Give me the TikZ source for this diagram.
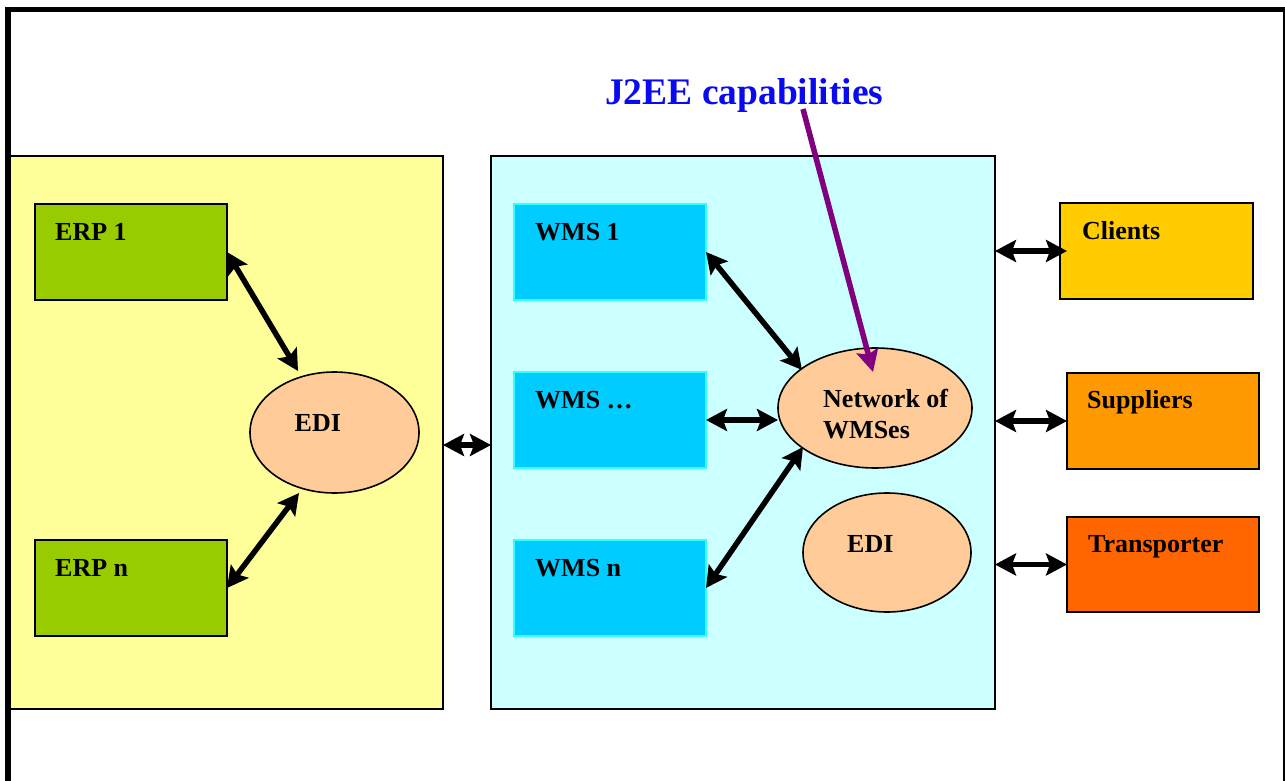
\documentclass[tikz,border=0pt]{standalone}
\usepackage{fontspec}
\setmainfont{Liberation Serif}
\usetikzlibrary{arrows.meta,calc,shapes.geometric}

\definecolor{zoneyellow}{RGB}{255,255,153}
\definecolor{zonecyan}{RGB}{204,255,255}
\definecolor{erpgreen}{RGB}{153,204,0}
\definecolor{wmsblue}{RGB}{0,204,255}
\definecolor{wmsedge}{RGB}{51,255,255}
\definecolor{edipeach}{RGB}{255,204,153}
\definecolor{clientgold}{RGB}{255,204,0}
\definecolor{supplierorange}{RGB}{255,153,0}
\definecolor{transporterorange}{RGB}{255,102,0}
\definecolor{titleblue}{RGB}{10,10,240}
\definecolor{pointerpurple}{RGB}{128,0,128}

\begin{document}
\begin{tikzpicture}[x=1pt,y=-1pt,
  zone/.style={draw=black,line width=1.8pt,inner sep=0pt,outer sep=0pt,anchor=north west},
  box/.style={draw=black,line width=2pt,inner sep=0pt,outer sep=0pt,anchor=north west,
              minimum width=192pt,minimum height=96pt},
  wmsbox/.style={box,draw=wmsedge,fill=wmsblue},
  oval/.style={ellipse,draw=black,line width=1.6pt,fill=edipeach,inner sep=0pt,outer sep=0pt},
  lbl/.style={font=\fontsize{26}{31}\selectfont\bfseries,inner sep=0pt,anchor=base west},
  dbl/.style={line width=5.5pt,
    {Stealth[length=21pt,width=22pt,inset=4pt]}-{Stealth[length=21pt,width=22pt,inset=4pt]}},
  pointer/.style={line width=5.5pt,draw=pointerpurple,
    -{Stealth[length=22pt,width=22pt,inset=4pt]}}]
\useasboundingbox (0,0) rectangle (1285,781);
\fill[white] (0,0) rectangle (1285,781);

% the two zones
\node[zone,fill=zoneyellow,minimum width=433pt,minimum height=553pt] (erpzone) at (10,156) {};
\node[zone,fill=zonecyan,minimum width=504pt,minimum height=553pt] (wmszone) at (491,156) {};

% ERP side
\node[box,fill=erpgreen] (erp1) at (35,204) {};
\node[box,fill=erpgreen] (erpn) at (35,540) {};
\node[lbl] (erp1-t) at ($(erp1.north west)+(20,36)$) {ERP 1};
\node[lbl] (erpn-t) at ($(erpn.north west)+(20,36)$) {ERP n};
\node[oval,minimum width=169pt,minimum height=121pt] (edi1) at (334.5,432.5) {};
\node[lbl] (edi1-t) at ($(edi1.center)+(-40,-1)$) {EDI};

% WMS side
\node[wmsbox] (wms1) at (514,204) {};
\node[wmsbox] (wms2) at (514,372) {};
\node[wmsbox] (wmsn) at (514,540) {};
\node[lbl] (wms1-t) at ($(wms1.north west)+(21,36)$) {WMS 1};
\node[lbl] (wms2-t) at ($(wms2.north west)+(21,36)$) {WMS …};
\node[lbl] (wmsn-t) at ($(wmsn.north west)+(21,36)$) {WMS n};
\node[oval,minimum width=194pt,minimum height=120pt] (net) at (875,408) {};
\node[lbl,anchor=north west,align=left] (net-t) at ($(net.center)+(-52,-19)$) {Network of\\WMSes};
\node[oval,minimum width=168pt,minimum height=119pt] (edi2) at (887,552.5) {};
\node[lbl] (edi2-t) at ($(edi2.center)+(-40,0)$) {EDI};

% partners
\node[box,fill=clientgold,minimum width=193pt] (clients) at (1060,203) {};
\node[box,fill=supplierorange] (suppliers) at (1067,373) {};
\node[box,fill=transporterorange,minimum height=95pt] (transporter) at (1067,517) {};
\node[lbl] (clients-t) at ($(clients.north west)+(22,36)$) {Clients};
\node[lbl] (suppliers-t) at ($(suppliers.north west)+(20,35)$) {Suppliers};
\node[lbl] (transporter-t) at ($(transporter.north west)+(21,35)$) {Transporter};

% title and its pointer
\node[font=\fontsize{37.5}{40}\selectfont\bfseries,text=titleblue,inner sep=0pt,anchor=base west]
  (j2ee) at (605,105) {J2EE capabilities};
\coordinate (j2ee-tail) at ($(j2ee.base west)+(198,4)$);
\draw[pointer] (j2ee-tail) -- ($(net.center)+(-2,-36)$);

% links
\draw[dbl] (erp1.east) -- ($(edi1.center)+(-36.5,-61.5)$);
\draw[dbl] (erpn.east) -- ($(edi1.center)+(-35.5,60.5)$);
\draw[dbl] ($(erpzone.east)+(0,12.5)$) -- ($(wmszone.west)+(0,12.5)$);
\draw[dbl] (wms1.east) -- ($(net.center)+(-73,-38)$);
\draw[dbl] (wms2.east) -- (wms2.east -| net.west);
\draw[dbl] (wmsn.east) -- ($(net.center)+(-72,39)$);
\draw[dbl] (wmszone.east |- clients.west) -- ($(clients.west)+(7,0)$);
\draw[dbl] (wmszone.east |- suppliers.west) -- (suppliers.west);
\draw[dbl] (wmszone.east |- transporter.west) -- (transporter.west);

% page frame
\fill[black] (5,7) rectangle (11,781);
\fill[black] (5,7) rectangle (1285,12);
\fill[black] (1282.5,7) rectangle (1285,781);
\end{tikzpicture}
\end{document}
